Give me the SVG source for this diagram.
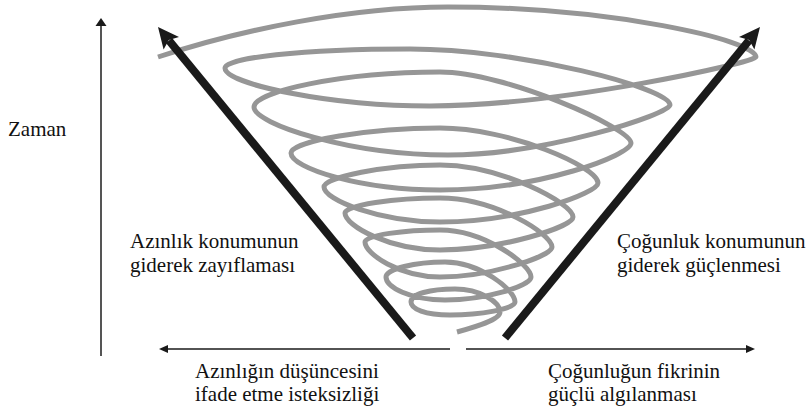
<svg xmlns="http://www.w3.org/2000/svg" width="812" height="411" viewBox="0 0 812 411">
<style>
text{font-size:21px;fill:#111}
.spiral{fill:none;stroke:#969696;stroke-width:5;stroke-linejoin:round}
.thin{stroke:#1a1a1a;stroke-width:1.6;fill:none}
.bold{stroke:#1a1a1a;stroke-width:8;fill:none}
.head{fill:#1a1a1a}
</style>
<rect width="812" height="411" fill="#fff"/>
<g id="spiral">
<path class="spiral" d="M158,57 C240,30 350,7 448,7 C610,7 756,40 756,57 C756,62 560,106 430,106 C330,106 225,84 225,68
C225,58 300,49 410,49 C520,49 670,88 670,105 C670,114 545,155 448,155 C350,155 254,124 254,107
C254,92 340,72 440,72 C505,72 631,128 631,143 C631,155 540,190 440,190 C360,190 291,168 291,153
C291,141 370,128 440,128 C510,128 598,167 598,183 C598,193 520,222 440,222 C380,222 324,200 324,187
C324,177 385,165 440,165 C500,165 573,203 573,217 C573,227 500,250 440,250 C390,250 345,226 345,213
C345,205 395,198 440,198 C495,198 552,234 552,247 C552,256 490,277 440,277 C400,277 365,254 365,242
C365,235 405,230 440,230 C485,230 531,265 531,277 C531,286 485,300 445,300 C410,300 386,287 386,277
C386,269 415,262 445,262 C480,262 515,290 515,302 C515,309 480,315 450,315 C425,315 411,309 411,302
C411,294 430,289 455,289 C480,289 500,302 500,312 C500,320 475,327 457,332"/>
</g>
<g id="connectors">
<line x1="101" y1="356" x2="101" y2="24" stroke="#555" stroke-width="2"/>
<polygon class="head" points="101,18 95.5,26 106.5,26"/>
<line class="bold" x1="413" y1="338" x2="169" y2="40.5"/>
<polygon class="head" points="158,27 179,36.9 168.8,40.1 163.6,49.6"/>
<line class="bold" x1="505" y1="338" x2="749" y2="40.5"/>
<polygon class="head" points="760,27 754.4,49.5 749.2,40.1 739,36.9"/>
<line class="thin" x1="450" y1="349" x2="166" y2="349"/>
<polygon class="head" points="159,349 168,345 168,353"/>
<line class="thin" x1="466" y1="349" x2="748" y2="349"/>
<polygon class="head" points="755,349 746,345 746,353"/>
</g>
<g font-family="Liberation Serif, DejaVu Serif, serif">
<g id="label-zaman"><text x="8" y="136" font-size="22">Zaman</text></g>
<g id="label-azinlik-konum"><text x="130" y="248">Azınlık konumunun</text><text x="130" y="272">giderek zayıflaması</text></g>
<g id="label-cogunluk-konum"><text x="617" y="248">Çoğunluk konumunun</text><text x="617" y="272">giderek güçlenmesi</text></g>
<g id="label-azinlik-dusunce"><text x="195" y="378">Azınlığın düşüncesini</text><text x="195" y="401">ifade etme isteksizliği</text></g>
<g id="label-cogunluk-fikir"><text x="548" y="378">Çoğunluğun fikrinin</text><text x="548" y="401">güçlü algılanması</text></g>
</g>
</svg>
